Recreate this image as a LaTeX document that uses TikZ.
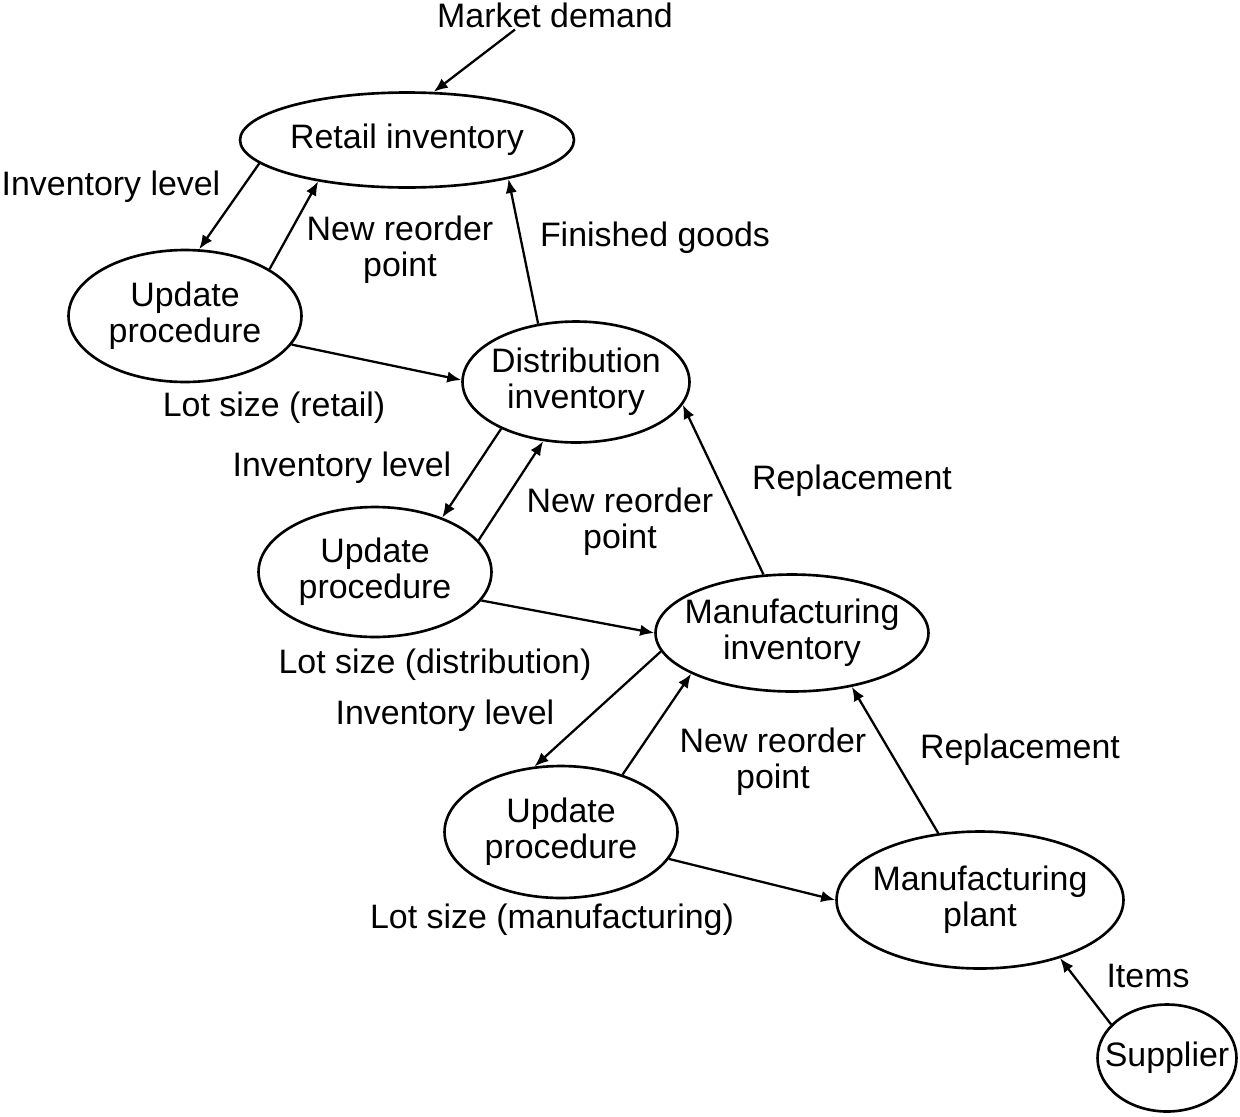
\documentclass[tikz,border=0pt]{standalone}
\usepackage{fontspec}
\setmainfont{Liberation Sans}
\usetikzlibrary{shapes.geometric,arrows.meta}
\begin{document}
\begin{tikzpicture}[x=0.02cm,y=-0.02cm,
  font=\fontsize{19.3}{20.5}\selectfont,
  ell/.style={draw, ellipse, line width=1.5pt, inner sep=0pt},
  lbl/.style={align=center, inner sep=1pt},
  arr/.style={line width=1.3pt, -{Latex[length=8pt,width=6.5pt]}}]
\useasboundingbox (0,0) rectangle (1240,1116);
% nodes
\node[lbl] (md) at (555,15) {Market demand};
\node[ell, minimum width=6.68cm, minimum height=1.90cm, label={[lbl]center:Retail inventory}] (ret) at (407,140) {};
\node[ell, minimum width=4.66cm, minimum height=2.64cm, label={[lbl]center:Update\\procedure}] (up1) at (185,316) {};
\node[ell, minimum width=4.54cm, minimum height=2.42cm, label={[lbl]center:Distribution\\inventory}] (dist) at (576,382) {};
\node[ell, minimum width=4.66cm, minimum height=2.60cm, label={[lbl]center:Update\\procedure}] (up2) at (375,572) {};
\node[ell, minimum width=5.46cm, minimum height=2.34cm, label={[lbl]center:Manufacturing\\inventory}] (mfg) at (792,633) {};
\node[ell, minimum width=4.66cm, minimum height=2.64cm, label={[lbl]center:Update\\procedure}] (up3) at (561,832) {};
\node[ell, minimum width=5.74cm, minimum height=2.74cm, label={[lbl]center:Manufacturing\\plant}] (plant) at (980,900) {};
\node[ell, minimum width=2.78cm, minimum height=2.14cm, label={[lbl]center:Supplier}] (sup) at (1167,1058) {};
% connectors
\draw[arr] (md.200) -- (ret.61);
\draw[arr] (ret.189) -- (up1.78);
\draw[arr] (up1.29.5) -- (ret.205);
\draw[arr] (up1.-15) -- (dist.179);
\draw[arr] (dist.123.5) -- (ret.-21);
\draw[arr] (dist.212) -- (up2.39);
\draw[arr] (up2.17.5) -- (dist.241);
\draw[arr] (up2.-15.5) -- (mfg.180);
\draw[arr] (mfg.116.5) -- (dist.-12);
\draw[arr] (mfg.188.7) -- (up3.112);
\draw[arr] (up3.43.6) -- (mfg.202.4);
\draw[arr] (up3.-14.4) -- (plant.180);
\draw[arr] (plant.122) -- (mfg.-42);
\draw[arr] (sup.149) -- (plant.-36);
% labels
\node[lbl] (l1) at (111,187) {Inventory level};
\node[lbl] (l2) at (400,250) {New reorder\\point};
\node[lbl] (l3) at (655,238) {Finished goods};
\node[lbl] (l4) at (274,408) {Lot size (retail)};
\node[lbl] (l5) at (342,468) {Inventory level};
\node[lbl] (l6) at (620,522) {New reorder\\point};
\node[lbl] (l7) at (852,481) {Replacement};
\node[lbl] (l8) at (435,665) {Lot size (distribution)};
\node[lbl] (l9) at (445,716) {Inventory level};
\node[lbl] (l10) at (773,762) {New reorder\\point};
\node[lbl] (l11) at (1020,750) {Replacement};
\node[lbl] (l12) at (552,920) {Lot size (manufacturing)};
\node[lbl] (l13) at (1148,976) {Items};
\end{tikzpicture}
\end{document}
